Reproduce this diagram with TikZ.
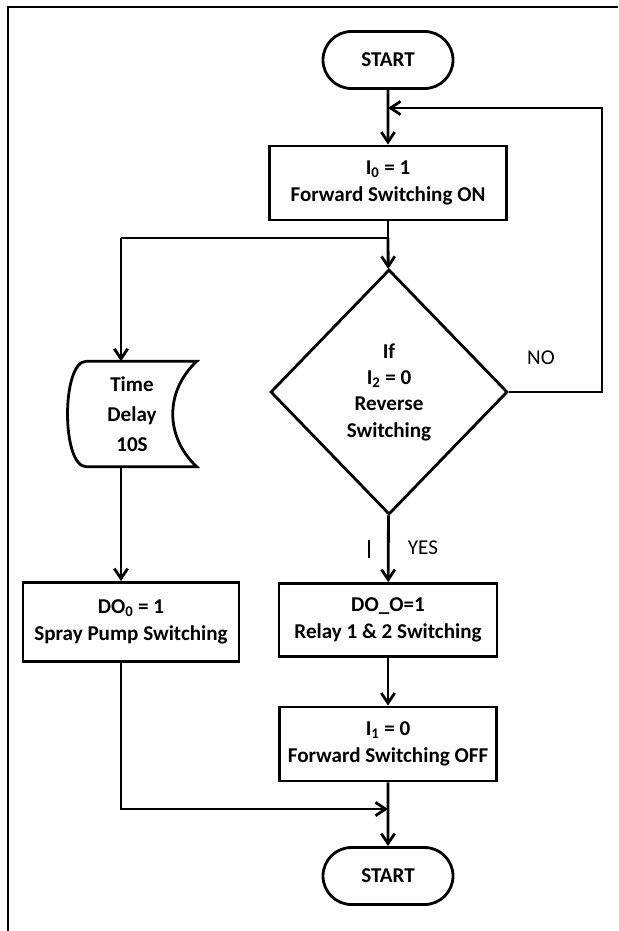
\documentclass[tikz,border=0pt]{standalone}
\usepackage{fontspec}
\setmainfont{Carlito}
\usetikzlibrary{shapes.geometric,shapes.misc,arrows.meta,positioning}

\begin{document}
\begin{tikzpicture}[x=0.03cm,y=-0.03cm]
\tikzstyle{block}=[rectangle,draw=black,line width=2.4pt,align=center,
font=\bfseries\fontsize{18}{23}\selectfont,inner sep=0pt]
\tikzstyle{term}=[rounded rectangle,draw=black,line width=2.4pt,
font=\bfseries\fontsize{18}{23}\selectfont,
minimum width=3.9cm,minimum height=1.71cm,inner sep=0pt]
\tikzstyle{decision}=[diamond,draw=black,line width=2.4pt,align=center,
font=\bfseries\fontsize{18}{22.5}\selectfont,
minimum width=7.11cm,minimum height=7.35cm,inner sep=0pt]
\tikzstyle{wire}=[line width=2.4pt]
\tikzstyle{arr}=[line width=2.4pt,-{Straight Barb[length=3mm,width=4mm]}]
\tikzstyle{tag}=[font=\fontsize{18}{22}\selectfont]

\useasboundingbox (0,0) rectangle (618,931);
% frame
\draw[line width=1.6pt] (8,931) -- (8,7) -- (618,7);

\node[term] at (388,60) (start1) {START};
\node[block,minimum width=7.11cm,minimum height=2.22cm] at (388,183) (fwdon)
  {I\textsubscript{0} = 1\\Forward Switching ON};
\node[decision] at (389,392) (cond) {If\\I\textsubscript{2} = 0\\Reverse\\Switching};
\node[align=center,font=\bfseries\fontsize{18}{25.5}\selectfont,
  minimum width=3.87cm,minimum height=3.15cm,inner sep=0pt] at (132,414) (delay)
  {Time\\Delay\\10S};
\node[block,minimum width=6.48cm,minimum height=2.37cm] at (131,622) (do0)
  {DO\textsubscript{0} = 1\\Spray Pump Switching};
\node[block,minimum width=6.54cm,minimum height=2.19cm] at (388,620) (doo)
  {DO\_O=1\\Relay 1 \& 2 Switching};
\node[block,minimum width=6.51cm,minimum height=2.22cm] at (388,744) (fwdoff)
  {I\textsubscript{1} = 0\\Forward Switching OFF};
\node[term] at (388,876) (start2) {START};
\node[tag] at (541,358) (no) {NO};
\node[tag] at (423,548) (yes) {YES};

% delay symbol
\draw[wire] ([xshift=0.57cm]delay.north west) -- (delay.north east)
  .. controls +(-32,30) and +(-32,-30) .. (delay.south east)
  -- ([xshift=0.57cm]delay.south west)
  .. controls +(-25,0) and +(-25,0) .. ([xshift=0.57cm]delay.north west);

\coordinate (split) at (388,238);
\coordinate (lsplit) at (121,238);
\coordinate (loopin) at (388,108);
\coordinate (loopcorner) at (602,108);
\coordinate (merge) at (388,809);

\draw[arr] (start1) -- (fwdon);
\draw[wire] (fwdon) -- (split) -- (lsplit);
\draw[arr] (split) -- (cond);
\draw[arr] (lsplit) -- (lsplit |- delay.north);
\draw[arr] (delay.south -| lsplit) -- (do0.north -| lsplit);
\draw[arr] (cond.east) -| (loopcorner) -- (loopin);
\draw[arr] (cond) -- (doo);
\draw[arr] (doo) -- (fwdoff);
\draw[arr] (do0.south -| lsplit) |- (merge);
\draw[arr] (fwdoff) -- (start2);
\draw[line width=2.4pt] (369,540) -- (369,558);

\end{tikzpicture}
\end{document}
